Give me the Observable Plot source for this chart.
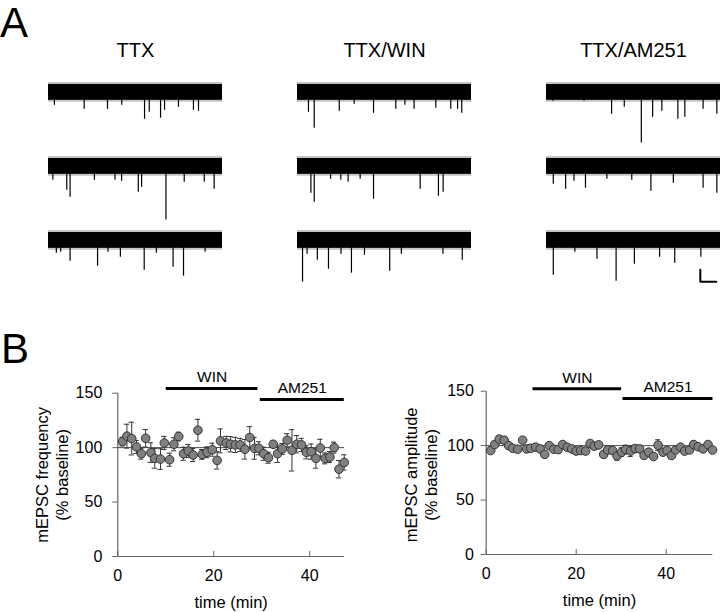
<!DOCTYPE html>
<html><head><meta charset="utf-8">
<script src="https://cdn.jsdelivr.net/npm/d3@7"></script>
<script src="https://cdn.jsdelivr.net/npm/@observablehq/plot@0.6"></script>
<style>
body{margin:0;background:#fff;}
#fig{position:relative;width:720px;height:612px;overflow:hidden;background:#fff;font-family:"Liberation Sans",Arial,sans-serif;}
.plabel{position:absolute;font-family:"Liberation Sans Narrow","Liberation Sans",Arial,sans-serif;font-size:42px;line-height:1;color:#000;}
</style></head><body><div id="fig"></div>
<script>
// ---------- Panel A: example traces ----------
const conditions = ["TTX", "TTX/WIN", "TTX/AM251"];
const rows = [1, 2, 3];
const traceDuration = 10; // s
const noiseHalf = 8;      // noise band half-width (amplitude units)
// events: [time (s), amplitude (downward)]
const eventsTTX = [
  [[0.34,13],[2.05,17],[3.39,17],[4.21,13],[5.52,27],[5.79,20],[6.44,26],[6.67,18],[7.47,15],[8.33,18],[8.62,19]],
  [[0.25,14],[1.05,24],[1.24,31],[2.64,14],[3.82,14],[4.2,15],[5.16,26],[5.35,21],[6.75,54],[7.8,16],[8.95,16],[9.52,23]],
  [[0.45,13],[0.7,12],[1.24,21],[2.82,26],[3.42,12],[4.13,17],[5.5,30],[6.2,13],[7.16,27],[7.76,36],[9.0,12]]
];
const eventsWIN = [
  [[0.63,20],[0.96,36],[2.4,19],[3.26,12],[4.37,21],[5.65,17],[6.17,13],[6.7,17],[7.95,16],[8.81,17],[9.2,17],[9.44,21]],
  [[0.77,27],[0.96,36],[1.9,13],[2.49,14],[2.91,16],[3.6,13],[4.37,33],[7.05,23],[8.1,30],[8.37,26]],
  [[0.29,42],[0.55,14],[1.14,20],[1.78,29],[2.5,14],[3.1,33],[3.85,15],[5.3,31],[5.97,14],[8.36,14],[9.47,20]]
];
const eventsAM = [
  [[0.37,9],[2.16,9],[3.74,22],[4.47,15],[5.45,51],[6.1,25],[6.63,19],[7.55,27],[7.95,25],[9.0,17],[9.79,22]],
  [[0.39,18],[1.1,23],[1.58,15],[2.24,22],[3.47,13],[4.9,14],[6.0,25],[7.29,17],[9.0,22],[9.79,27]],
  [[0.39,35],[1.63,12],[2.9,19],[4.0,41],[5.05,24],[6.5,17],[7.37,23],[8.87,17]]
];
const scaleBarTime = [8.84, 9.76];   // s
const scaleBarAmp = [-29.5, -41.5];  // amplitude units

// ---------- Panel B: time courses ----------
const freqTime = [1.0,1.9,2.9,3.9,4.9,5.8,6.9,7.7,8.9,9.7,10.8,11.7,12.7,13.7,14.7,15.7,16.7,17.6,18.6,19.7,20.7,21.4,22.6,23.5,24.5,25.5,26.5,27.5,28.5,29.4,30.4,31.4,32.4,33.3,34.3,35.3,36.3,37.3,38.3,39.3,40.3,41.3,42.2,43.2,44.2,45.1,46.1,47.2];
const freqMean = [105.6,110.5,108.3,100.6,94.4,108.6,95.4,90.1,89.5,104.3,88.9,103.1,110.2,94.4,96.9,93.2,116,93.8,95.7,98.1,88.3,106.2,104.3,103.1,102.5,102.5,98.5,109.3,99.4,99.4,94.4,90.7,103.1,94.4,98.8,106.8,97.5,103.1,102.5,95.7,96.3,90.1,99.7,90.1,91.4,100,80.2,86.4];
const freqSem = [4,11,15,6,5,8,9,9,9.5,6,6,6,4,6,6,6,10,4.5,5,6,8,11,6,7,7,6,9,10,10,6,6,5,3,8,5,6,19,8,6,6,7,9,8,5,5,5,8,7];

const ampTime = [1.0,1.9,2.9,4.0,5.0,5.9,7.0,8.1,9.0,9.9,11.0,12.0,13.0,14.0,15.0,16.0,17.0,18.0,19.0,20.0,21.0,22.1,23.1,24.0,25.0,26.1,27.0,28.1,29.1,30.1,31.0,32.1,33.1,34.1,35.1,36.1,37.2,38.2,39.3,40.2,41.2,42.1,43.2,44.1,45.2,46.1,47.1,48.2,49.3,50.3];
const ampMean = [95.5,101,106,105,100,97.6,96.7,105,97,97.6,98.6,97,92,100,96.7,96.4,101,98.6,97,95,95.5,95,102,99.5,100.7,92,96,95.5,90.6,94,96.4,95,97.3,97,91,94,90,100.4,94,95.5,91,96,98.6,95,96,101,99,97,101,96];
const ampSem = [2,2,3,2,2,2,2,2,2,2,2,2,2,2,2,2,2,2,3,3,3,2,2,2,2,2,3,3,4,4,4,5,3,3,2,2,2,5,2,3,3,3,2,2,2,3,2,2,2,2];

const drugs = ["WIN", "AM251"];
const drugStartL = [10.1, 29.7], drugEndL = [29.2, 47.2], drugLevelL = [154.3, 144.2];
const drugStartR = [10.4, 30.4], drugEndR = [30.1, 50.4], drugLevelR = [152.2, 143.3];
const yTicks = [0, 50, 100, 150];
const xTicks = [0, 20, 40];

// ---------- build ----------
const fig = document.getElementById("fig");
function place(el, left, top) { el.style.position = "absolute"; el.style.left = left + "px"; el.style.top = top + "px"; fig.appendChild(el); return el; }
function label(txt, left, top) { const d = document.createElement("div"); d.className = "plabel"; d.textContent = txt; return place(d, left, top); }

const traceList = conditions.flatMap(c => rows.map(r => ({condition: c, row: r})));
const evSets = {"TTX": eventsTTX, "TTX/WIN": eventsWIN, "TTX/AM251": eventsAM};
const eventData = conditions.flatMap(c => evSets[c].flatMap((list, i) => list.map(([t, a]) => ({condition: c, row: i + 1, t, amp: a}))));
const scaleBar = [
  {condition: "TTX/AM251", row: 3, t: scaleBarTime[0], a: scaleBarAmp[0]},
  {condition: "TTX/AM251", row: 3, t: scaleBarTime[0], a: scaleBarAmp[1]},
  {condition: "TTX/AM251", row: 3, t: scaleBarTime[1], a: scaleBarAmp[1]}
];

const panelA = Plot.plot({
  width: 720, height: 300, marginTop: 77.5, marginBottom: 0, marginLeft: 47, marginRight: 0,
  style: {fontFamily: "'Liberation Sans', Arial, sans-serif", background: "transparent"},
  fx: {domain: conditions, paddingInner: 0.3026, paddingOuter: 0},
  fy: {domain: rows, padding: 0, axis: null},
  x: {domain: [0, traceDuration], axis: null},
  y: {domain: [-60.5, 14], axis: null},
  marks: [
    Plot.axisFx({anchor: "top", tickSize: 0, tickPadding: 22, fontSize: 20, label: null}),
    Plot.rect(traceList, {fx: "condition", fy: "row", x1: 0, x2: traceDuration, y1: -noiseHalf - 2, y2: noiseHalf + 2, fill: "#000", fillOpacity: 0.22}),
    Plot.rect(traceList, {fx: "condition", fy: "row", x1: 0, x2: traceDuration, y1: -noiseHalf, y2: noiseHalf, fill: "#000"}),
    Plot.ruleX(eventData, {fx: "condition", fy: "row", x: "t", y1: 0, y2: d => -d.amp, stroke: "#000", strokeWidth: 1.2}),
    Plot.line(scaleBar, {fx: "condition", fy: "row", x: "t", y: "a", stroke: "#000", strokeWidth: 2})
  ]
});
place(panelA, 0, 0);

function timeCourse(times, means, sems, starts, ends, levels, opts) {
  const data = times.map((t, i) => ({t, v: means[i], e: sems[i]}));
  const treat = drugs.map((n, i) => ({name: n, start: starts[i], end: ends[i], level: levels[i]}));
  return Plot.plot({
    width: 360, height: 312,
    marginLeft: opts.marginLeft, marginRight: opts.marginRight, marginTop: opts.marginTop, marginBottom: opts.marginBottom,
    style: {fontFamily: "'Liberation Sans', Arial, sans-serif", background: "transparent", overflow: "visible"},
    x: {domain: [0, opts.xmax]},
    y: {domain: [0, 150]},
    marks: [
      Plot.axisY({ticks: yTicks, tickSize: 5, tickPadding: opts.yPad, fontSize: 16, label: null, stroke: "#666", fill: "#000"}),
      Plot.axisX({ticks: xTicks, tickSize: 0, tickPadding: 13, fontSize: 16, label: null, fill: "#000"}),
      Plot.ruleX(xTicks, {y1: 0, y2: 4.6, stroke: "#666"}),
      Plot.ruleX([0], {stroke: "#666", strokeWidth: 1.2}),
      Plot.ruleY([0], {stroke: "#666", strokeWidth: 1.2}),
      Plot.ruleY([100], {stroke: "#333", strokeWidth: 0.9}),
      Plot.ruleX(data, {x: "t", y1: d => d.v - d.e, y2: d => d.v + d.e, stroke: "#333", strokeWidth: 1}),
      Plot.ruleY(data, {y: d => d.v + d.e, x1: d => d.t - 0.55, x2: d => d.t + 0.55, stroke: "#333", strokeWidth: 1}),
      Plot.ruleY(data, {y: d => d.v - d.e, x1: d => d.t - 0.55, x2: d => d.t + 0.55, stroke: "#333", strokeWidth: 1}),
      Plot.dot(data, {x: "t", y: "v", r: 4.3, fill: "#808080", stroke: "#333", strokeWidth: 1}),
      Plot.ruleY(treat, {y: "level", x1: "start", x2: "end", stroke: "#000", strokeWidth: 3}),
      Plot.text(treat, {x: d => (d.start + d.end) / 2, y: "level", text: "name", dy: -11, fontSize: 15.5, fill: "#000"}),
      Plot.text([opts.ylabel1], {frameAnchor: "left", textAnchor: "middle", rotate: -90, dx: opts.ylabelDx1, dy: opts.ylabelDy, fontSize: 16.5, fill: "#000"}),
      Plot.text(["(% baseline)"], {frameAnchor: "left", textAnchor: "middle", rotate: -90, dx: opts.ylabelDx2, dy: opts.ylabelDy, fontSize: 16.5, fill: "#000"}),
      Plot.text(["time (min)"], {frameAnchor: "bottom", dy: 51, fontSize: 16.5, fill: "#000"})
    ]
  });
}

const freqPlot = timeCourse(freqTime, freqMean, freqSem, drugStartL, drugEndL, drugLevelL,
  {marginLeft: 117.3, marginRight: 16, marginTop: 92.7, marginBottom: 56, xmax: 47.25, yPad: 10.5,
   ylabel1: "mEPSC frequency", ylabelDx1: -75, ylabelDx2: -55, ylabelDy: 0});
place(freqPlot, 0, 300);

const ampPlot = timeCourse(ampTime, ampMean, ampSem, drugStartR, drugEndR, drugLevelR,
  {marginLeft: 125.7, marginRight: 7.7, marginTop: 90.7, marginBottom: 58, xmax: 50.36, yPad: 7.3,
   ylabel1: "mEPSC amplitude", ylabelDx1: -74, ylabelDx2: -54, ylabelDy: 2});
place(ampPlot, 360, 300);

label("A", 0, 2);
label("B", 1, 328);
</script></body></html>
